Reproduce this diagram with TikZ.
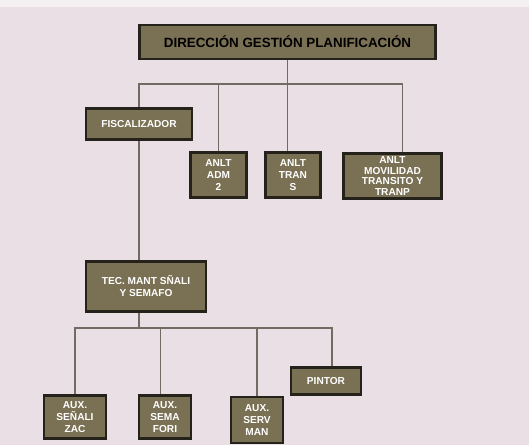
\documentclass[tikz,border=0pt]{standalone}
\usepackage{fontspec}
\setmainfont{Liberation Sans}
\usetikzlibrary{positioning}
\definecolor{paper}{RGB}{233,223,228}
\definecolor{boxfill}{RGB}{122,112,84}
\definecolor{boxline}{RGB}{36,34,26}
\definecolor{linkgray}{RGB}{112,108,100}
\tikzset{
box/.style={draw=boxline, line width=2pt, fill=boxfill, text=white, align=center, inner sep=1pt, font=\fontsize{7.2}{8.6}\selectfont\bfseries}, % every unit of the chart
link/.style={draw=linkgray, line width=0.8pt}, % the lines between the units
}

\begin{document}
\begin{tikzpicture}[x=0.025cm, y=-0.025cm]
                \path[use as bounding box, fill=paper] (0,0) rectangle (529,445);
                \fill[white!55!paper] (0,0) rectangle (529,7);
                \node[box, minimum width=7.4cm, minimum height=0.85cm, text=black, font=\fontsize{9.5}{10}\selectfont\bfseries] (dir) at (287.5,42) {DIRECCIÓN GESTIÓN PLANIFICACIÓN};
                \node[box, minimum width=2.65cm, minimum height=0.78cm] (fis) at (139,124) {FISCALIZADOR};
                \node[box, minimum width=1.38cm, minimum height=1.12cm] (adm) at (218.5,175) {ANLT\\ADM\\2};
                \node[box, minimum width=1.38cm, minimum height=1.12cm] (tra) at (293,175) {ANLT\\TRAN\\S};
                \node[box, minimum width=2.43cm, minimum height=1.12cm, inner sep=0pt, font=\fontsize{7.2}{7.6}\selectfont\bfseries] (mov) at (392.5,176) {ANLT\\MOVILIDAD\\TRANSITO Y\\TRANP};
                \node[box, minimum width=3cm, minimum height=1.25cm] (tec) at (146,286.5) {TEC. MANT SÑALI\\Y SEMAFO};
                \node[box, minimum width=1.55cm, minimum height=1.08cm] (aux1) at (75,417) {AUX.\\SEÑALI\\ZAC};
                \node[box, minimum width=1.3cm, minimum height=1.08cm] (aux2) at (165,417) {AUX.\\SEMA\\FORI};
                \node[box, minimum width=1.3cm, minimum height=1.15cm] (aux3) at (257,420) {AUX.\\SERV\\MAN};
                \node[box, minimum width=1.75cm, minimum height=0.68cm] (pin) at (326,381) {PINTOR};
                % the two bus lines
                \coordinate (bus1) at (0,84);
                \coordinate (bus2) at (0,328);
                \coordinate (movtop) at ([xshift=0.24cm]mov.north);
                \coordinate (auxtop) at ([xshift=-0.12cm]aux2.north);
                \coordinate (pintop) at ([xshift=0.15cm]pin.north);
                \draw[link] (dir.south) -- (dir.south |- tra.north);
                \draw[link] (fis.north) |- (movtop |- bus1) -- (movtop);
                \draw[link] (adm.north |- bus1) -- (adm.north);
                \draw[link] (fis.south) -- (fis.south |- tec.north);
                \draw[link] (fis.south |- tec.south) -- (fis.south |- bus2);
                \draw[link] (aux1.north) |- (pintop |- bus2) -- (pintop);
                \draw[link] (auxtop |- bus2) -- (auxtop);
                \draw[link] (aux3.north |- bus2) -- (aux3.north);
                \end{tikzpicture}
\end{document}
